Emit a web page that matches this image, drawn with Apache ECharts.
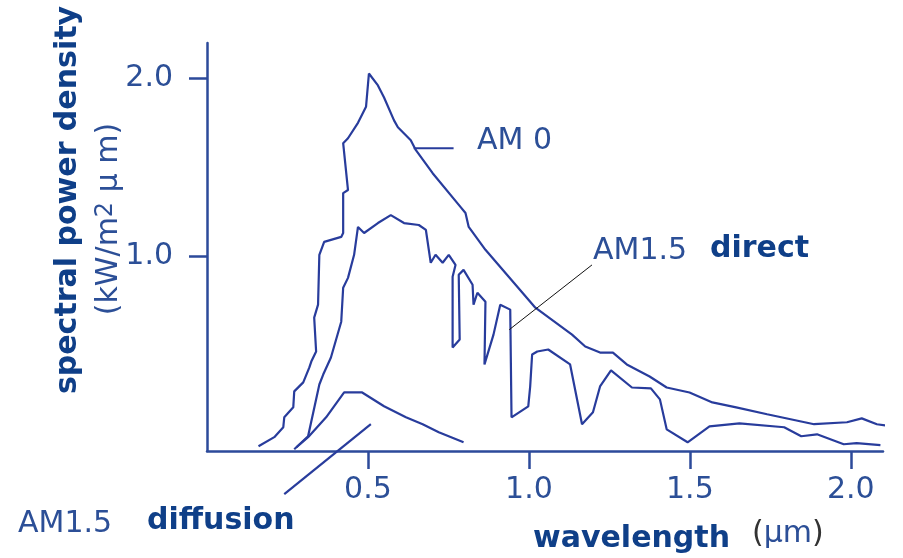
<!DOCTYPE html>
<html>
<head>
<meta charset="utf-8">
<script src="https://cdn.jsdelivr.net/npm/echarts@6/dist/echarts.min.js"></script>
<style>
  html, body { margin: 0; padding: 0; background: #ffffff; }
  #chart { width: 903px; height: 558px; }
</style>
</head>
<body>
<div id="chart"></div>
<script>
// wavelength (um) / spectral power density (kW/m2 um)
const am0 = [
  [0.160, -0.073], [0.209, -0.022], [0.237, 0.034], [0.240, 0.090], [0.268, 0.146],
  [0.271, 0.236], [0.299, 0.287], [0.318, 0.371], [0.324, 0.404], [0.339, 0.461],
  [0.333, 0.652], [0.345, 0.725], [0.349, 1.006], [0.364, 1.079], [0.417, 1.107],
  [0.423, 1.129], [0.423, 1.354], [0.438, 1.371], [0.423, 1.635], [0.438, 1.663],
  [0.469, 1.750], [0.494, 1.840], [0.503, 2.028], [0.531, 1.961], [0.550, 1.893],
  [0.581, 1.764], [0.593, 1.725], [0.633, 1.652], [0.649, 1.596], [0.701, 1.466],
  [0.788, 1.275], [0.803, 1.242], [0.813, 1.163], [0.865, 1.034], [0.980, 0.792],
  [1.020, 0.708], [1.134, 0.556], [1.175, 0.489], [1.221, 0.455], [1.261, 0.455],
  [1.304, 0.388], [1.375, 0.320], [1.428, 0.258], [1.499, 0.230], [1.570, 0.174],
  [1.644, 0.146], [1.740, 0.107], [1.886, 0.051], [1.988, 0.062], [2.034, 0.084],
  [2.081, 0.051], [2.124, 0.039]
];

const am15Direct = [
  [0.271, -0.090], [0.314, -0.017], [0.349, 0.275], [0.361, 0.331], [0.385, 0.427],
  [0.417, 0.629], [0.423, 0.820], [0.438, 0.876], [0.457, 1.006], [0.469, 1.163],
  [0.488, 1.129], [0.531, 1.185], [0.571, 1.230], [0.612, 1.185], [0.658, 1.174],
  [0.680, 1.146], [0.695, 0.961], [0.710, 1.006], [0.732, 0.961], [0.751, 1.006],
  [0.772, 0.949], [0.763, 0.882], [0.763, 0.483], [0.785, 0.528], [0.782, 0.893],
  [0.797, 0.921], [0.825, 0.837], [0.828, 0.725], [0.840, 0.792], [0.865, 0.742],
  [0.862, 0.388], [0.890, 0.556], [0.911, 0.725], [0.942, 0.697], [0.946, 0.090],
  [0.998, 0.152], [1.004, 0.264], [1.010, 0.444], [1.026, 0.461], [1.060, 0.472],
  [1.128, 0.388], [1.165, 0.051], [1.199, 0.118], [1.221, 0.264], [1.255, 0.354],
  [1.320, 0.258], [1.379, 0.253], [1.407, 0.191], [1.428, 0.022], [1.493, -0.051],
  [1.561, 0.039], [1.654, 0.056], [1.793, 0.034], [1.846, -0.017], [1.895, -0.006],
  [1.978, -0.062], [2.018, -0.056], [2.092, -0.067]
];

const am15Diffuse = [
  [0.278, -0.079], [0.314, -0.022], [0.370, 0.090], [0.426, 0.230], [0.482, 0.230],
  [0.550, 0.152], [0.618, 0.090], [0.670, 0.051], [0.720, 0.006], [0.797, -0.051]
];

// leader lines from the labels to the curves
const am0Leader = [[0.642, 1.607], [0.766, 1.607]];
const directLeader = [[1.196, 0.949], [0.939, 0.584]];
const diffuseLeader = [[0.240, -0.343], [0.509, 0.051]];

const xTicks = [0.5, 1.0, 1.5, 2.0];
const yTicks = [1.0, 2.0];

const curveColor = '#283c9c';
const axisColor = '#2c4a9a';
const textColor = '#2c4f97';
const boldColor = '#0f3f88';
const font = '"DejaVu Sans", sans-serif';

const chart = echarts.init(document.getElementById('chart'), null, { renderer: 'canvas' });

function curve(name, data, color, width) {
  return {
    name: name,
    type: 'line',
    data: data,
    showSymbol: false,
    symbol: 'none',
    clip: false,
    animation: false,
    lineStyle: { color: color, width: width }
  };
}

function label(text, x, y, opts) {
  return {
    type: 'text',
    x: x,
    y: y,
    rotation: opts.rotation || 0,
    style: {
      text: text,
      fontSize: 30,
      fontFamily: font,
      fontWeight: opts.bold ? 'bold' : 'normal',
      fill: opts.fill || (opts.bold ? boldColor : textColor),
      align: opts.align || 'left',
      verticalAlign: 'middle',
      rich: opts.rich
    }
  };
}

const option = {
  backgroundColor: '#ffffff',
  animation: false,
  grid: { left: 207, right: 20, top: 43, bottom: 107, outerBoundsMode: 'none' },
  xAxis: {
    type: 'value',
    min: 0,
    max: 2.1,
    axisLine: { onZero: false, lineStyle: { color: axisColor, width: 2.5 } },
    axisTick: { customValues: xTicks, length: 18, lineStyle: { color: axisColor, width: 2.5 } },
    axisLabel: {
      customValues: xTicks,
      formatter: v => v.toFixed(1),
      fontSize: 30, fontFamily: font, color: textColor, margin: 24
    },
    splitLine: { show: false }
  },
  yAxis: {
    type: 'value',
    min: -0.1,
    max: 2.2,
    axisLine: { show: true, onZero: false, lineStyle: { color: axisColor, width: 2.5 } },
    axisTick: { show: true, customValues: yTicks, length: 18, lineStyle: { color: axisColor, width: 2.5 } },
    axisLabel: {
      customValues: yTicks,
      formatter: v => v.toFixed(1),
      fontSize: 30, fontFamily: font, color: textColor, margin: 34
    },
    splitLine: { show: false }
  },
  series: [
    curve('AM 0', am0, curveColor, 2.2),
    curve('AM1.5 direct', am15Direct, curveColor, 2.2),
    curve('AM1.5 diffusion', am15Diffuse, curveColor, 2.2),
    curve('am0 leader', am0Leader, curveColor, 2),
    curve('direct leader', directLeader, '#111111', 1),
    curve('diffusion leader', diffuseLeader, curveColor, 2.2)
  ],
  graphic: [
    label('spectral power density', 68, 200, { bold: true, align: 'center', rotation: Math.PI / 2 }),
    label('(kW/m{sup|2} μ m)', 109, 219, {
      align: 'center', rotation: Math.PI / 2,
      rich: { sup: { fill: textColor, fontSize: 24, fontFamily: font, verticalAlign: 'top' } }
    }),
    label('AM 0', 477, 141, {}),
    label('AM1.5', 593, 251, {}),
    label('direct', 710, 249, { bold: true }),
    label('AM1.5', 18, 524, {}),
    label('diffusion', 147, 521, { bold: true }),
    label('wavelength', 533, 539, { bold: true }),
    label('{p|(}μm{p|)}', 752, 534, { rich: { p: { fill: '#333333', fontSize: 30, fontFamily: font } } })
  ]
};

chart.setOption(option);
</script>
</body>
</html>
